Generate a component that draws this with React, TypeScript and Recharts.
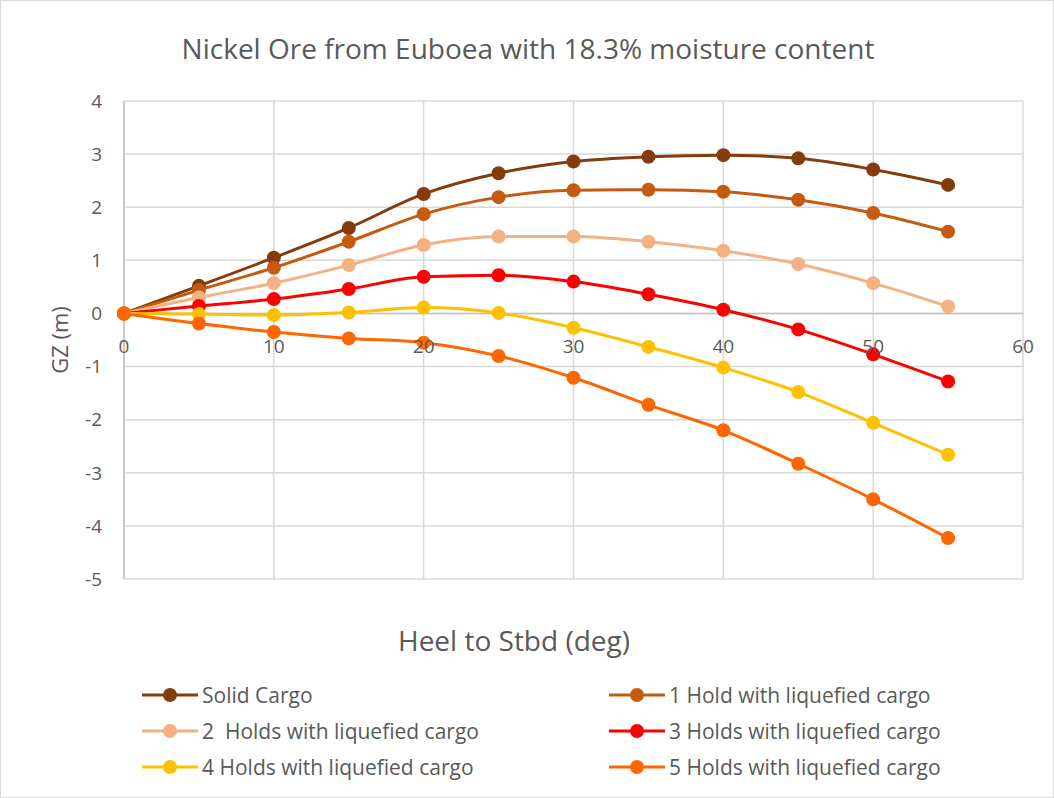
import React from 'react';
import {
  LineChart,
  Line,
  XAxis,
  YAxis,
  CartesianGrid,
  ReferenceLine,
} from 'recharts';

// Heel angles (deg)
const heel = [0, 5, 10, 15, 20, 25, 30, 35, 40, 45, 50, 55];

// GZ (m) for each loading condition
const solidCargo = [0, 0.52, 1.05, 1.61, 2.25, 2.64, 2.86, 2.95, 2.98, 2.92, 2.71, 2.42];
const hold1 = [0, 0.44, 0.86, 1.35, 1.87, 2.19, 2.32, 2.33, 2.29, 2.14, 1.89, 1.54];
const holds2 = [0, 0.3, 0.57, 0.91, 1.29, 1.45, 1.45, 1.35, 1.18, 0.93, 0.57, 0.13];
const holds3 = [0, 0.14, 0.27, 0.46, 0.69, 0.72, 0.6, 0.36, 0.07, -0.3, -0.77, -1.28];
const holds4 = [0, -0.01, -0.03, 0.02, 0.11, 0.01, -0.27, -0.63, -1.02, -1.48, -2.06, -2.66];
const holds5 = [0, -0.19, -0.35, -0.47, -0.55, -0.8, -1.21, -1.72, -2.2, -2.83, -3.5, -4.23];

const xTicks = [0, 10, 20, 30, 40, 50, 60];
const yTicks = [-5, -4, -3, -2, -1, 0, 1, 2, 3, 4];

const series = [
  { key: 'solid', name: 'Solid Cargo', color: '#843C0C', values: solidCargo },
  { key: 'h1', name: '1 Hold with liquefied cargo', color: '#C55A11', values: hold1 },
  { key: 'h2', name: '2  Holds with liquefied cargo', color: '#F4B183', values: holds2 },
  { key: 'h3', name: '3 Holds with liquefied cargo', color: '#FF0000', values: holds3 },
  { key: 'h4', name: '4 Holds with liquefied cargo', color: '#FFC000', values: holds4 },
  { key: 'h5', name: '5 Holds with liquefied cargo', color: '#FF6600', values: holds5 },
];

const data = heel.map((h, i) => {
  const row: Record<string, number> = { heel: h };
  series.forEach((s) => {
    row[s.key] = s.values[i];
  });
  return row;
});

const W = 1054;
const H = 798;
const MARGIN = { top: 100, right: 32, bottom: 200, left: 10 };
const X_AXIS_H = 20;
const PLOT_H = H - MARGIN.top - MARGIN.bottom - X_AXIS_H;
const Y_MIN = -5;
const Y_MAX = 4;

const FONT = '"Open Sans", Lato, sans-serif';
const TEXT = '#595959';

// X tick labels sit just under the y = 0 line rather than at the bottom edge
const ZeroLineTick = (props: any) => {
  const { x, y, payload } = props;
  const zeroY = y - (PLOT_H * (0 - Y_MIN)) / (Y_MAX - Y_MIN);
  return (
    <text x={x} y={zeroY + 38} textAnchor="middle" fill={TEXT} fontSize={19} fontFamily={FONT}>
      {payload.value}
    </text>
  );
};

const LegendIcon = ({ color }: { color: string }) => (
  <svg width={56} height={20} style={{ display: 'block' }}>
    <line x1={0} y1={10} x2={56} y2={10} stroke={color} strokeWidth={3} />
    <circle cx={28} cy={10} r={7} fill={color} />
  </svg>
);

export default function App() {
  return (
    <div
      style={{
        position: 'absolute',
        left: 0,
        top: 0,
        width: W,
        height: H,
        background: '#fff',
        boxSizing: 'border-box',
        border: '1px solid #d9d9d9',
        fontFamily: FONT,
      }}
    >
      <div
        style={{
          position: 'absolute',
          top: 27,
          left: 0,
          width: W,
          textAlign: 'center',
          fontSize: 28,
          lineHeight: '40px',
          color: TEXT,
        }}
      >
        Nickel Ore from Euboea with 18.3% moisture content
      </div>
      <LineChart width={W} height={H} data={data} margin={MARGIN}>
        <CartesianGrid stroke="#d9d9d9" strokeWidth={1.5} />
        <XAxis
          dataKey="heel"
          type="number"
          domain={[0, 60]}
          ticks={xTicks}
          axisLine={false}
          tickLine={false}
          tickSize={0}
          height={X_AXIS_H}
          tick={<ZeroLineTick />}
          interval={0}
        />
        <YAxis
          type="number"
          domain={[Y_MIN, Y_MAX]}
          ticks={yTicks}
          width={113}
          axisLine={{ stroke: '#bfbfbf', strokeWidth: 1.5 }}
          tickLine={false}
          tickSize={0}
          tickMargin={22}
          tick={{ fill: TEXT, fontSize: 19, fontFamily: FONT }}
          interval={0}
          label={{
            value: 'GZ (m)',
            angle: -90,
            position: 'insideLeft',
            offset: 49,
            style: { fill: TEXT, fontSize: 22, fontFamily: FONT, textAnchor: 'middle' },
          }}
        />
        <ReferenceLine y={0} stroke="#bfbfbf" strokeWidth={1.5} />
        {series.map((s) => (
          <Line
            key={s.key}
            dataKey={s.key}
            name={s.name}
            type="monotone"
            stroke={s.color}
            strokeWidth={3}
            dot={{ r: 7, fill: s.color, stroke: s.color, strokeWidth: 0 }}
            activeDot={false}
            isAnimationActive={false}
          />
        ))}
      </LineChart>
      <div
        style={{
          position: 'absolute',
          top: 619,
          left: 0,
          width: 1026,
          textAlign: 'center',
          fontSize: 28,
          lineHeight: '40px',
          color: TEXT,
        }}
      >
        Heel to Stbd (deg)
      </div>
      <div
        style={{
          position: 'absolute',
          top: 682,
          left: 141,
          display: 'grid',
          gridTemplateColumns: '467px 420px',
          rowGap: 12,
        }}
      >
        {series.map((s) => (
          <div key={s.key} style={{ display: 'flex', alignItems: 'center', height: 24 }}>
            <LegendIcon color={s.color} />
            <span style={{ marginLeft: 4, fontSize: 21, color: TEXT, whiteSpace: 'pre' }}>{s.name}</span>
          </div>
        ))}
      </div>
    </div>
  );
}
